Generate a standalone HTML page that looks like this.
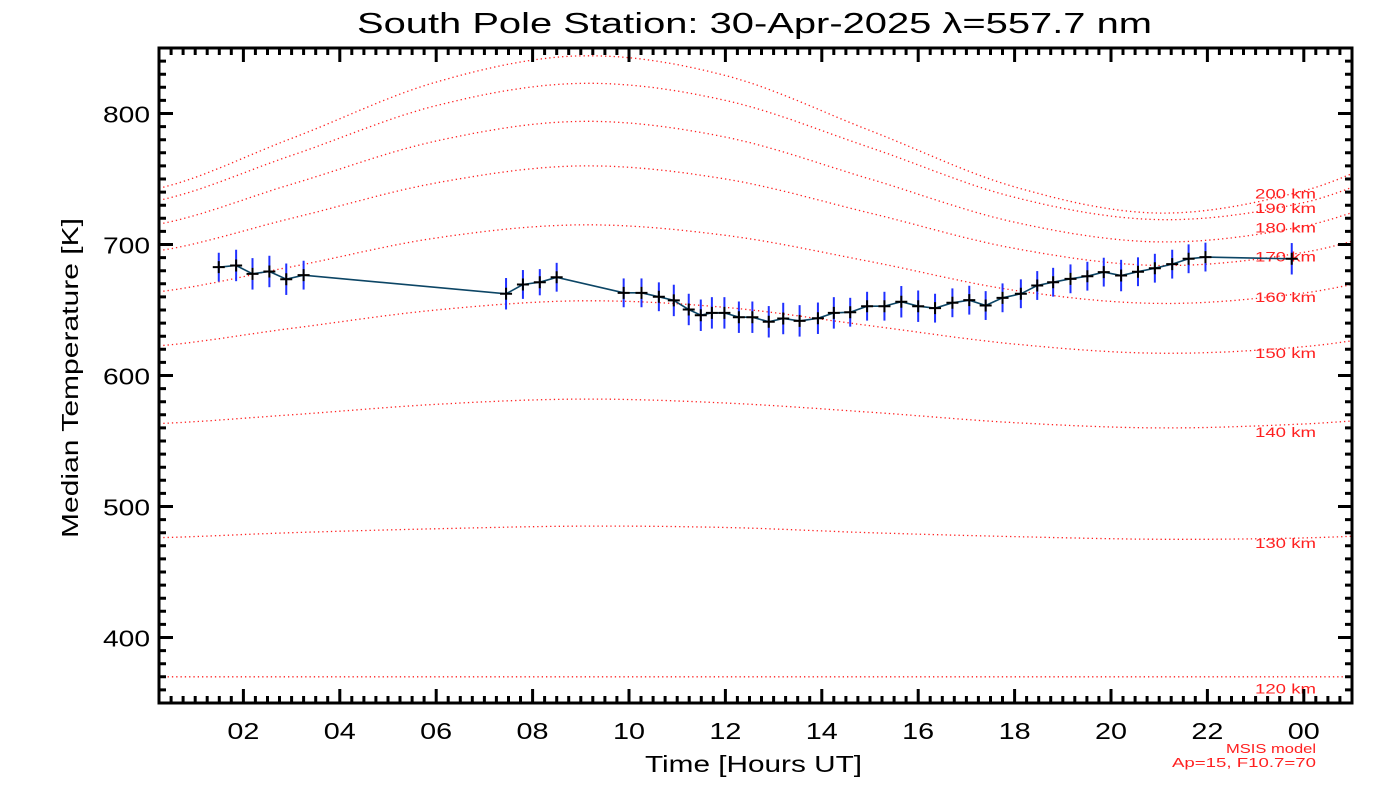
<!DOCTYPE html>
<html><head><meta charset="utf-8"><style>
body{margin:0;background:#fff}
svg{display:block;font-family:"Liberation Sans","DejaVu Sans",sans-serif}
</style></head><body>
<svg id="chart" width="1400" height="800">
<text x="357" y="33" font-size="29" textLength="795" lengthAdjust="spacingAndGlyphs">South Pole Station: 30-Apr-2025 λ=557.7 nm</text>
<text transform="translate(78,538) rotate(-90)" font-size="23" textLength="320" lengthAdjust="spacingAndGlyphs">Median Temperature [K]</text>
<text x="645" y="772" font-size="23" textLength="217" lengthAdjust="spacingAndGlyphs">Time [Hours UT]</text>
<text x="1226" y="753" font-size="13" fill="#ff2020" textLength="90" lengthAdjust="spacingAndGlyphs">MSIS model</text>
<text x="1172" y="767" font-size="13" fill="#ff2020" textLength="144" lengthAdjust="spacingAndGlyphs">Ap=15, F10.7=70</text>
<g id="models"></g><g id="series"></g><g id="axes"></g>
</svg>
<script>
// MSIS model curves: altitudes, sample times and temperatures
const altitudes = [200,190,180,170,160,150,140,130,120];
const modelTimes = [0,3,6,9,12,15,18,21,24,27];
const model200 = [741,781,824,844,829,787,744,724,741,781];
const model190 = [732,768,806,823,810,774,736,719,732,768];
const model180 = [714,746,779,794,782,750,717,702,714,746];
const model170 = [694,720,747,760,750,724,697,684,694,720];
const model160 = [663,683,705,715,707,687,665,655,663,683];
const model150 = [622,636,650,657,652,638,624,617,622,636];
const model140 = [563,570,578,582,579,572,564,560,563,570];
const model130 = [476,480,483,485,484,480,477,475,476,480];
const model120 = [370,370,370,370,370,370,370,370,370,370];
const models = [model200,model190,model180,model170,model160,model150,model140,model130,model120];
const labelTemps = [739,728,713,691,660,617,557,472,361];
// Observations
const obsTimes = [1.49,1.85,2.19,2.54,2.89,3.25,7.45,7.80,8.15,8.50,9.89,10.26,10.62,10.93,11.24,11.49,11.72,11.98,12.28,12.56,12.90,13.20,13.54,13.92,14.25,14.59,14.94,15.30,15.65,16.00,16.35,16.71,17.06,17.40,17.75,18.13,18.47,18.80,19.16,19.51,19.85,20.21,20.56,20.91,21.27,21.61,21.96,23.75];
const obsTemps = [682.7,684,677.6,679.4,673.5,676.6,662.4,669.5,671.2,675.0,663.1,663.1,660.1,657.3,650.4,646.0,647.8,647.8,644.5,644.5,641.0,643.5,641.7,643.7,647.8,648.3,652.9,652.9,656.3,652.9,651.4,655.5,657.5,653.4,659.3,662.4,668.7,671.2,673.8,675.8,678.9,676.3,679.2,681.9,685.0,689.1,690.4,689.1];
const obsErr = [11,12,12,12,12,11,12,11,10,11,11,11,11,12,12,12,12,12,12,12,12,12,12,12,12,11,11,11,12,12,11,11,11,11,11,11,11,11,11,11,11,12,11,11,11,11,11,12];
const yTicks = [400,500,600,700,800];
const xTicks = [2,4,6,8,10,12,14,16,18,20,22,24];
const xTickLabels = ["02","04","06","08","10","12","14","16","18","20","22","00"];

const L=159,R=1352,T=48,B=703,X0=0.25,X1=25,Y0=350,Y1=850;
const sx=t=>L+(t-X0)/(X1-X0)*(R-L);
const sy=v=>B-(v-Y0)/(Y1-Y0)*(B-T);
const NS="http://www.w3.org/2000/svg";
function mk(tag,attrs,parent){const e=document.createElementNS(NS,tag);for(const k in attrs)e.setAttribute(k,attrs[k]);parent.appendChild(e);return e;}
function interp(xs,ys,t){let i=0;while(i<xs.length-2&&t>xs[i+1])i++;
 const p0=ys[Math.max(i-1,0)],p1=ys[i],p2=ys[i+1],p3=ys[Math.min(i+2,ys.length-1)];
 const u=(t-xs[i])/(xs[i+1]-xs[i]);
 return 0.5*((2*p1)+(-p0+p2)*u+(2*p0-5*p1+4*p2-p3)*u*u+(-p0+3*p1-3*p2+p3)*u*u*u);}
const gm=document.getElementById('models');
models.forEach((m,k)=>{let d="";for(let j=2;j<=200;j++){const t=j/8;d+=(d?"L":"M")+sx(t).toFixed(1)+","+sy(interp(modelTimes,m,t)).toFixed(1);}
 const p=mk('path',{d:d,fill:'none',stroke:'#ff2020','stroke-width':1.3,'stroke-dasharray':'1.3 3'},gm);
 
 
 const tx=mk('text',{x:1255,y:sy(labelTemps[k])+5,'font-size':14,fill:'#ff2020',textLength:61,lengthAdjust:'spacingAndGlyphs'},gm);
 tx.textContent=altitudes[k]+" km";
 
 });
const gs=document.getElementById('series');
obsTimes.forEach((t,i)=>{const e=mk('line',{x1:sx(t),x2:sx(t),y1:sy(obsTemps[i]-obsErr[i]),y2:sy(obsTemps[i]+obsErr[i]),stroke:'#2030ff','stroke-width':2},gs);
 
 });
const line=mk('polyline',{points:obsTimes.map((t,i)=>sx(t).toFixed(1)+","+sy(obsTemps[i]).toFixed(1)).join(" "),fill:'none',stroke:'#0c4565','stroke-width':1.6},gs);


obsTimes.forEach((t,i)=>{const x=sx(t),y=sy(obsTemps[i]);
 const p=mk('path',{d:`M${x-6},${y}H${x+6}M${x},${y-6}V${y+6}`,stroke:'#000','stroke-width':2},gs);
 
 });
const ga=document.getElementById('axes');
let d="";
for(let q=1;q<=100;q++){const maj=q%8===0;const len=maj?14:7;const x=sx(q/4).toFixed(1);d+=`M${x},${B}V${B-len}M${x},${T}V${T+len}`;}
for(let v=Y0;v<=Y1;v+=10){const maj=v%100===0;const len=maj?14:7;const y=sy(v).toFixed(1);d+=`M${L},${y}H${L+len}M${R},${y}H${R-len}`;}
const tk=mk('path',{d:d,stroke:'#000','stroke-width':3,fill:'none'},ga);


const fr=mk('rect',{x:L,y:T,width:R-L,height:B-T,fill:'none',stroke:'#000','stroke-width':3},ga);


yTicks.forEach(v=>{const t=mk('text',{x:103,y:sy(v)+9,'font-size':23,textLength:47,lengthAdjust:'spacingAndGlyphs'},ga);t.textContent=v;
 
 });
xTicks.forEach((v,i)=>{const t=mk('text',{x:sx(v)-16,y:739,'font-size':23,textLength:32,lengthAdjust:'spacingAndGlyphs'},ga);t.textContent=xTickLabels[i];
 
 });
</script>
</body></html>
